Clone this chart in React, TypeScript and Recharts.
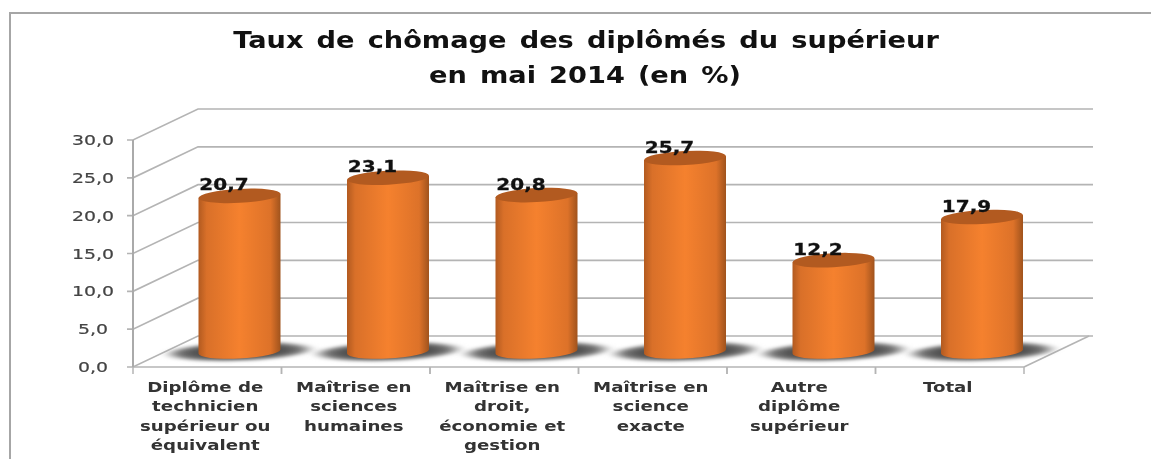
import React from 'react';
import { BarChart, Bar, XAxis, YAxis, CartesianGrid, LabelList } from 'recharts';

const categories = [
  'Diplôme de\ntechnicien\nsupérieur ou\néquivalent',
  'Maîtrise en\nsciences\nhumaines',
  'Maîtrise en\ndroit,\néconomie et\ngestion',
  'Maîtrise en\nscience\nexacte',
  'Autre\ndiplôme\nsupérieur',
  'Total',
];
const rates = [20.7, 23.1, 20.8, 25.7, 12.2, 17.9];
const yTicks = [0, 5, 10, 15, 20, 25, 30];
const titleLines = ['Taux de chômage des diplômés du supérieur', 'en mai 2014 (en %)'];

const data = categories.map((name, i) => ({ name, rate: rates[i] }));
const comma = (v: number) => v.toFixed(1).replace('.', ',');

// depth of the fake 3D box
const DX = 65;
const DY = -31;
const GRID = '#b4b4b4';
const FONT = '"DejaVu Sans", Verdana, sans-serif';

function Stretched({ x, y, sx, children, ...rest }: any) {
  return (
    <text transform={`translate(${x},${y}) scale(${sx},1)`} textAnchor="middle" fontFamily={FONT} {...rest}>
      {children}
    </text>
  );
}

function WallLine(props: any) {
  const { x1, y1, x2, y, height, index } = props;
  const isFloor = y1 >= y + height - 0.5;
  return (
    <g key={index} fill="none" stroke={GRID} strokeWidth={1.6}>
      <polyline points={`${x1 - 6},${y1} ${x1},${y1} ${x1 + DX},${y1 + DY} ${x2 + DX + 4},${y1 + DY}`} />
      {isFloor && <line x1={x2} y1={y1} x2={x2 + DX} y2={y1 + DY} />}
    </g>
  );
}

function Cylinder(props: any) {
  const { x, y, width, height } = props;
  const cx = x + width / 2 + DX / 2;
  const rx = width / 2;
  const ry = 7;
  const tilt = 2;
  const top = y + DY / 2 + 1;
  const bottom = y + height + DY / 2;
  return (
    <g>
      <ellipse
        cx={cx}
        cy={bottom}
        rx={rx + 34}
        ry={10}
        fill="url(#shade)"
        filter="url(#soft)"
        transform={`rotate(-2 ${cx} ${bottom})`}
      />
      <path
        d={`M${cx - rx},${top + tilt} L${cx - rx},${bottom + tilt} A${rx},${ry} -3 0 0 ${cx + rx},${bottom - tilt} L${cx + rx},${top - tilt} Z`}
        fill="url(#body)"
      />
      <ellipse cx={cx} cy={top} rx={rx} ry={ry} fill="#b25a20" transform={`rotate(-3 ${cx} ${top})`} />
    </g>
  );
}

function ValueLabel({ x, y, width, value }: any) {
  return (
    <Stretched x={x + width / 2 + 17} y={y - 20} sx={1.25} fontSize={16} fontWeight="bold" fill="#111" stroke="#111" strokeWidth={0.3}>
      {comma(value)}
    </Stretched>
  );
}

function YTick({ x, y, payload }: any) {
  return (
    <Stretched x={x - 32} y={y + 5} sx={1.35} fontSize={14} fill="#444" stroke="#444" strokeWidth={0.2}>
      {comma(payload.value)}
    </Stretched>
  );
}

function XTick({ x, y, payload }: any) {
  return (
    <g>
      <line x1={x - 74.25} y1={y - 8} x2={x - 74.25} y2={y - 1} stroke={GRID} strokeWidth={1.5} />
      <line x1={x + 74.25} y1={y - 8} x2={x + 74.25} y2={y - 1} stroke={GRID} strokeWidth={1.5} />
      {payload.value.split('\n').map((line: string, i: number) => (
        <Stretched key={i} x={x - 2} y={y + 17 + i * 19.4} sx={1.35} fontSize={13.5} fontWeight="bold" fill="#333">
          {line}
        </Stretched>
      ))}
    </g>
  );
}

export default function App() {
  return (
    <div style={{ position: 'absolute', left: 0, top: 0, width: 1151, height: 459, background: '#fff', overflow: 'hidden', filter: 'blur(0.5px)' }}>
      <div style={{ position: 'absolute', left: 9, top: 12, width: 1200, height: 500, border: '2px solid #a6a6a6' }} />
      <BarChart
        width={1151}
        height={459}
        data={data}
        margin={{ top: 140, right: 127, bottom: 2, left: 73 }}
        barSize={82}
        style={{ position: 'absolute', left: 0, top: 0 }}
      >
        <defs>
          <linearGradient id="body" x1="0" x2="1" y1="0" y2="0">
            <stop offset="0" stopColor="#b25a20" />
            <stop offset="0.1" stopColor="#d97029" />
            <stop offset="0.5" stopColor="#f5812e" />
            <stop offset="0.88" stopColor="#dd7229" />
            <stop offset="1" stopColor="#a0531d" />
          </linearGradient>
          <radialGradient id="shade">
            <stop offset="0.6" stopColor="#505050" />
            <stop offset="0.82" stopColor="#777777" />
            <stop offset="1" stopColor="#aaaaaa" stopOpacity={0.2} />
          </radialGradient>
          <filter id="soft" x="-30%" y="-100%" width="160%" height="300%">
            <feGaussianBlur stdDeviation="4 1.5" />
          </filter>
        </defs>
        <CartesianGrid vertical={false} horizontal={WallLine as any} />
        <XAxis dataKey="name" height={90} axisLine={{ stroke: GRID, strokeWidth: 1.6 }} tickLine={false} tick={XTick} interval={0} />
        <YAxis width={60} domain={[0, 30]} ticks={yTicks} axisLine={{ stroke: '#aaaaaa', strokeWidth: 2 }} tickLine={false} tick={YTick} />
        <Bar dataKey="rate" shape={Cylinder} isAnimationActive={false}>
          <LabelList dataKey="rate" content={ValueLabel} />
        </Bar>
        <Stretched x={586} y={48} sx={1.21} fontSize={22.5} fontWeight="bold" fill="#111" wordSpacing={3}>{titleLines[0]}</Stretched>
        <Stretched x={585} y={83} sx={1.21} fontSize={22.5} fontWeight="bold" fill="#111" wordSpacing={3}>{titleLines[1]}</Stretched>
      </BarChart>
    </div>
  );
}
